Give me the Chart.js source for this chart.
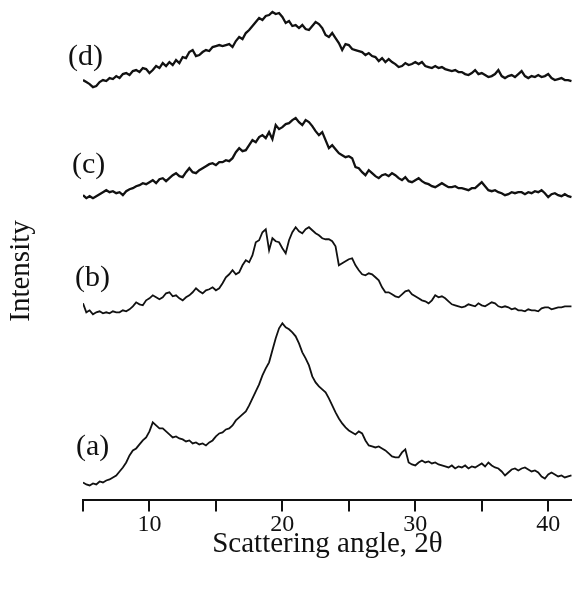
<!DOCTYPE html>
<html>
<head>
<meta charset="utf-8">
<title>Scattering patterns</title>
<script src="https://cdn.jsdelivr.net/npm/chart.js@4"></script>
<style>
  html, body { margin: 0; padding: 0; background: #fff; }
  #wrap { width: 572px; height: 590px; }
</style>
</head>
<body>
<div id="wrap"><canvas id="xrd" width="572" height="590"></canvas></div>
<script>
// sampling grid, 2θ from 5 to 41.75 deg in 0.25 deg steps
const angles = [];
for (let i = 0; i < 148; i++) angles.push(5 + i * 0.25);

const tickMarks = [5, 10, 15, 20, 25, 30, 35, 40];
const xTicks = [10, 20, 30, 40];
const curveLabels = ["(a)", "(b)", "(c)", "(d)"];

// intensities (arbitrary units, curves already stacked)
const intensityA = [
  17, 15, 14, 16,   15, 18, 17, 19,   20, 22, 24, 28,   32, 37, 44, 49,
  51, 55, 59, 62,   68, 77, 74, 71,   71, 68, 65, 62,   63, 61, 60, 58,
  59, 56, 57, 55,   56, 54, 57, 59,   63, 66, 67, 70,   71, 74, 79, 82,
  85, 88, 94, 101,  108, 115, 124, 131, 137, 149, 161, 171, 176, 172, 170, 167,
  163, 156, 147, 141, 134, 123, 117, 113, 110, 107, 101, 94, 87, 81, 76, 72,
  69, 67, 65, 68,   66, 59, 54, 53,   52, 53, 51, 49,   46, 43, 42, 42,
  47, 50, 37, 35,   34, 37, 39, 37,   38, 36, 37, 35,   34, 33, 32, 34,
  31, 33, 32, 34,   31, 33, 32, 34,   36, 33, 37, 34,   32, 31, 28, 24,
  27, 30, 31, 29,   31, 32, 30, 28,   29, 27, 23, 21,   25, 27, 25, 23,
  24, 22, 23, 24
];

const intensityB = [
  196, 187, 189, 185, 187, 188, 186, 187, 186, 188, 187, 187, 189, 188, 190, 193,
  197, 195, 194, 199, 201, 204, 202, 200, 202, 206, 207, 203, 204, 201, 199, 202,
  204, 207, 211, 208, 206, 209, 210, 212, 209, 211, 216, 222, 225, 229, 225, 227,
  234, 239, 237, 244, 257, 259, 267, 270, 249, 261, 258, 257, 251, 246, 259, 267,
  272, 268, 266, 270, 272, 269, 266, 264, 261, 260, 260, 258, 253, 234, 236, 238,
  240, 241, 234, 229, 225, 224, 226, 225, 222, 219, 212, 207, 207, 205, 203, 202,
  205, 208, 209, 205, 203, 201, 199, 198, 196, 199, 204, 202, 203, 201, 198, 195,
  194, 193, 192, 193, 195, 194, 193, 196, 194, 193, 195, 197, 196, 193, 192, 193,
  192, 190, 191, 189, 189, 188, 190, 189, 189, 188, 191, 192, 192, 190, 191, 192,
  192, 193, 193, 193
];

const intensityC = [
  304, 301, 303, 301, 303, 305, 307, 309, 307, 308, 306, 307, 304, 308, 310, 311,
  313, 314, 316, 315, 317, 319, 316, 320, 321, 318, 321, 324, 326, 323, 322, 327,
  331, 327, 326, 329, 331, 333, 335, 336, 334, 337, 337, 339, 338, 341, 347, 351,
  348, 349, 354, 359, 357, 362, 364, 361, 367, 360, 374, 370, 372, 375, 376, 379,
  381, 377, 374, 379, 377, 373, 368, 364, 367, 359, 351, 354, 350, 346, 344, 342,
  343, 341, 332, 331, 327, 324, 329, 326, 323, 321, 324, 325, 323, 326, 324, 321,
  319, 322, 318, 317, 319, 321, 318, 316, 315, 313, 312, 314, 316, 314, 312, 312,
  313, 311, 311, 310, 309, 311, 311, 314, 317, 313, 309, 308, 309, 307, 306, 304,
  305, 307, 306, 307, 307, 305, 307, 306, 308, 307, 309, 306, 302, 305, 306, 304,
  303, 305, 303, 302
];

const intensityD = [
  419, 417, 415, 412, 413, 417, 419, 418, 421, 420, 423, 421, 425, 426, 424, 428,
  429, 427, 431, 430, 426, 429, 433, 431, 436, 433, 437, 434, 439, 436, 442, 441,
  447, 449, 443, 444, 447, 449, 448, 452, 453, 454, 453, 454, 455, 452, 458, 462,
  460, 466, 469, 473, 477, 481, 479, 483, 484, 487, 485, 486, 482, 476, 478, 473,
  474, 471, 474, 470, 469, 473, 477, 475, 471, 464, 462, 466, 461, 456, 449, 455,
  454, 450, 449, 448, 447, 444, 446, 443, 442, 438, 441, 437, 440, 437, 435, 432,
  433, 436, 434, 435, 437, 435, 437, 433, 432, 431, 433, 431, 432, 430, 429, 428,
  429, 427, 427, 425, 424, 426, 429, 425, 426, 424, 422, 423, 425, 429, 423, 421,
  423, 424, 422, 425, 428, 423, 421, 423, 422, 424, 422, 423, 425, 421, 419, 420,
  421, 419, 419, 418
];

const serif = '"Liberation Serif", "DejaVu Serif", serif';

function toPoints(values) {
  return values.map((v, i) => ({ x: angles[i], y: v }));
}

// draws the (a)-(d) tags and the rotated y title
const annotations = {
  id: "annotations",
  afterDraw(chart) {
    const ctx = chart.ctx;
    ctx.save();
    ctx.fillStyle = "#111";
    ctx.font = "30px " + serif;
    ctx.textAlign = "left";
    ctx.textBaseline = "alphabetic";
    const spots = [[76, 455], [75, 286], [72, 173], [68, 65]];
    curveLabels.forEach((t, i) => ctx.fillText(t, spots[i][0], spots[i][1]));

    ctx.font = "29px " + serif;
    ctx.translate(29, 271);
    ctx.rotate(-Math.PI / 2);
    ctx.textAlign = "center";
    ctx.fillText("Intensity", 0, 0);
    ctx.restore();
  },
};

const lineStyle = (values, width) => ({
  data: toPoints(values),
  borderColor: "#111",
  borderWidth: width,
  pointRadius: 0,
  tension: 0,
  fill: false,
});

new Chart(document.getElementById("xrd"), {
  type: "line",
  data: {
    datasets: [
      lineStyle(intensityA, 1.8),
      lineStyle(intensityB, 1.8),
      lineStyle(intensityC, 2.3),
      lineStyle(intensityD, 2.3),
    ],
  },
  options: {
    responsive: false,
    animation: false,
    layout: { padding: { left: 83, right: 0, top: 0, bottom: 38 } },
    plugins: { legend: { display: false }, tooltip: { enabled: false } },
    scales: {
      x: {
        type: "linear",
        min: 5,
        max: 41.79,
        afterBuildTicks: (scale) => {
          scale.ticks = tickMarks.map((v) => ({ value: v }));
        },
        ticks: {
          padding: 1,
          color: "#111",
          maxRotation: 0,
          autoSkip: false,
          font: { family: serif, size: 24, lineHeight: 1 },
          callback: (v) => (xTicks.includes(v) ? v : ""),
        },
        grid: {
          drawOnChartArea: false,
          drawTicks: true,
          tickLength: 12,
          color: "#111",
          lineWidth: 2,
        },
        border: { display: true, color: "#111", width: 2 },
        title: {
          display: true,
          text: "Scattering angle, 2θ",
          color: "#111",
          padding: 0,
          font: { family: serif, size: 29, lineHeight: 0.5 },
        },
      },
      y: { display: false, min: 0, max: 499 },
    },
  },
  plugins: [annotations],
});
</script>
</body>
</html>
